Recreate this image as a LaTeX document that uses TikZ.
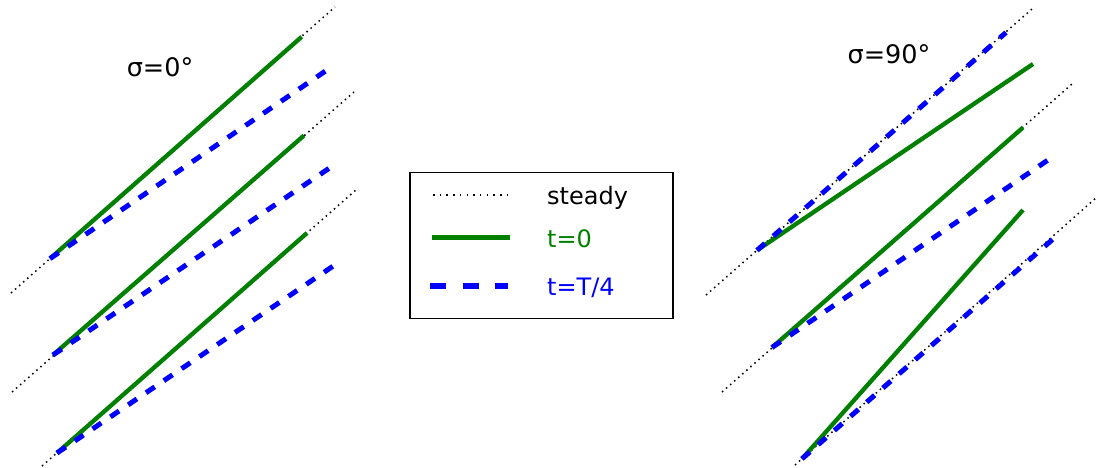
\documentclass[tikz,border=0pt]{standalone}
\usepackage{fontspec}
\setmainfont{DejaVu Sans}
\definecolor{mplgreen}{RGB}{0,128,0}
\definecolor{mplblue}{RGB}{0,0,255}
\begin{document}
\begin{tikzpicture}[x=1pt,y=-1pt,
  steadyline/.style={black,line width=1.5pt,dash pattern=on 1.5pt off 3.9pt},
  greenline/.style={mplgreen,line width=4.3pt,line cap=butt},
  blueline/.style={mplblue,line width=5pt,line cap=butt,dash pattern=on 10.5pt off 11pt},
  bluelegend/.style={mplblue,line width=5.3pt,line cap=butt,dash pattern=on 16pt off 16.5pt},
  title/.style={font=\fontsize{25.5}{30}\selectfont,anchor=base,inner sep=0pt},
  legtext/.style={font=\fontsize{24}{28}\selectfont,anchor=base west,inner sep=0pt}]
\useasboundingbox (0,0) rectangle (1097,468);
% ---------- left panel (sigma = 0) ----------
\coordinate (LS1a) at (11,293);  \coordinate (LS1b) at (335,7);
\coordinate (LS2a) at (12,392);  \coordinate (LS2b) at (354,92);
\coordinate (LS3a) at (42,466);  \coordinate (LS3b) at (357,189);
\coordinate (LG1a) at (50,258.6); \coordinate (LG1b) at (301.7,36.8);
\coordinate (LG2a) at (53,355);   \coordinate (LG2b) at (304,135.5);
\coordinate (LG3a) at (57,453);   \coordinate (LG3b) at (307,233);
\coordinate (LB1b) at (327,70);
\coordinate (LB2b) at (331,167);
\coordinate (LB3b) at (334,265.5);
\draw[steadyline] (LS1a) -- (LS1b);
\draw[steadyline] (LS2a) -- (LS2b);
\draw[steadyline] (LS3a) -- (LS3b);
\draw[greenline] (LG1a) -- (LG1b);
\draw[greenline] (LG2a) -- (LG2b);
\draw[greenline] (LG3a) -- (LG3b);
\draw[blueline] (LG1a) -- (LB1b);
\draw[blueline] (LG2a) -- (LB2b);
\draw[blueline] (LG3a) -- (LB3b);
\node[title] (t0) at (160,77) {σ=0°};
% ---------- right panel (sigma = 90) ----------
\coordinate (RS1a) at (706,295);  \coordinate (RS1b) at (1032,9);
\coordinate (RS2a) at (722,392);  \coordinate (RS2b) at (1072,84);
\coordinate (RS3a) at (795,465);  \coordinate (RS3b) at (1097,197);
\coordinate (R1s) at (757,250.3); \coordinate (RG1b) at (1033,64); \coordinate (RB1b) at (1006,32.5);
\coordinate (R2s) at (772,347.5); \coordinate (RG2b) at (1023,127.5); \coordinate (RB2b) at (1048,160);
\coordinate (R3s) at (802,458.8); \coordinate (RG3b) at (1023,210); \coordinate (RB3b) at (1052.5,239.5);
\draw[steadyline] (RS1a) -- (RS1b);
\draw[steadyline] (RS2a) -- (RS2b);
\draw[steadyline] (RS3a) -- (RS3b);
\draw[greenline] (R1s) -- (RG1b);
\draw[greenline] (R2s) -- (RG2b);
\draw[greenline] (R3s) -- (RG3b);
\draw[blueline] (R1s) -- (RB1b);
\draw[blueline] (R2s) -- (RB2b);
\draw[blueline] (R3s) -- (RB3b);
\node[title] (t90) at (889,63.5) {σ=90°};
% ---------- legend ----------
\node[draw=black,line width=1.5pt,minimum width=263pt,minimum height=146pt,inner sep=0pt] (legend) at (541.5,245.3) {};
\coordinate (k1a) at (433,195); \coordinate (k1b) at (507,195);
\coordinate (k2a) at (432,237.5); \coordinate (k2b) at (510,237.5);
\coordinate (k3a) at (430,286); \coordinate (k3b) at (508,286);
\draw[steadyline,dash pattern=on 1.5pt off 5.2pt] (k1a) -- (k1b);
\draw[greenline,line width=5pt] (k2a) -- (k2b);
\draw[bluelegend] (k3a) -- (k3b);
\node[legtext] (l1) at (547,204) {steady};
\node[legtext,text=mplgreen] (l2) at (547,247.5) {t=0};
\node[legtext,text=mplblue] (l3) at (547,295) {t=T/4};
\end{tikzpicture}
\end{document}
